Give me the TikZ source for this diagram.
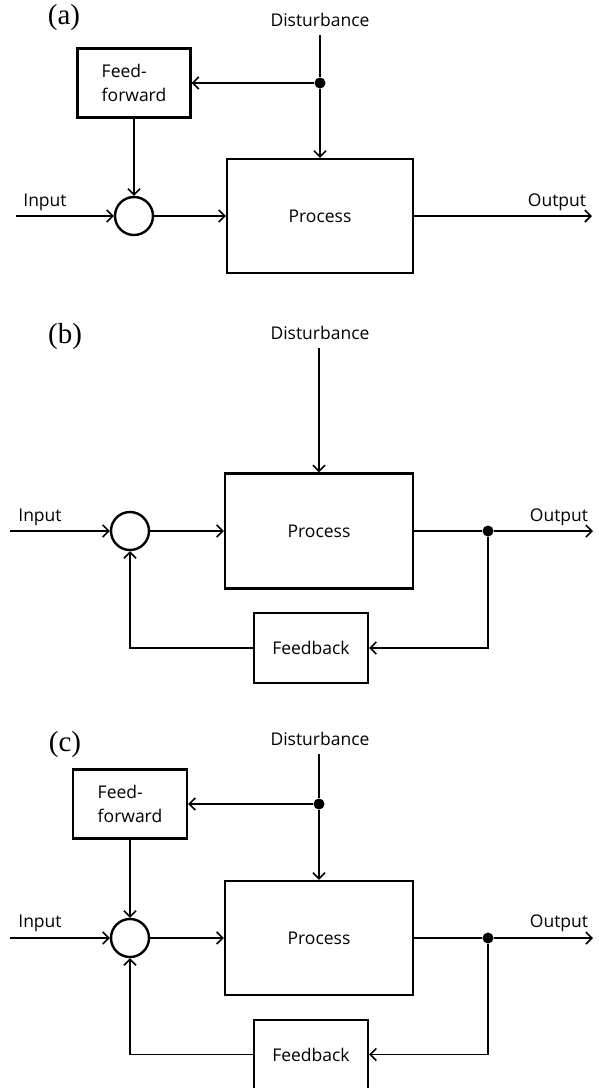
\documentclass[tikz,border=0pt]{standalone}
\usepackage{fontspec}
\setmainfont{Liberation Serif}
\setsansfont{Open Sans}
\usetikzlibrary{arrows.meta}
\tikzset{every node/.style={align=center}, >={Straight Barb[length=6pt,width=12pt]}, font=\sffamily\fontsize{17.5}{24}\selectfont}
\tikzset{block/.style={draw, line width=2.4pt, inner sep=0pt},
  sum/.style={draw, circle, line width=2.4pt, minimum size=38pt, inner sep=0pt},
  junction/.style={circle, fill, inner sep=0pt, minimum size=11pt},
  tag/.style={font=\rmfamily\fontsize{29}{29}\selectfont},
  wire/.style={line width=1.6pt}}

\begin{document}
\begin{tikzpicture}[x=1pt, y=-1pt]
\useasboundingbox (0,0) rectangle (598,1088);
% (a) feedforward
\node [tag] (taga) at (64,18) {(a)};
\node (dista) at (320,20) {Disturbance};
\coordinate (da) at (320,35);
\node [junction] (ja) at (320,83) {};
\node [block, minimum width=113pt, minimum height=69pt, align=left] (ffa) at (134,83) {Feed-\\forward};
\node [sum] (suma) at (134,216) {};
\node [block, minimum width=186pt, minimum height=114pt] (pa) at (320,216) {Process};
\coordinate (ina) at (16,216);
\coordinate (outa) at (592,216);
\node (lina) at (45,202) {Input};
\node (louta) at (557,202) {Output};
\path [->, wire] (da) edge [-] (ja)
    (ja) edge (ffa.east)
    (ja) edge (pa.north)
    (ffa.south) edge (suma.north)
    (ina) edge (suma.west)
    (suma.east) edge (pa.west)
    (pa.east) edge (outa);

% (b) feedback
\node [tag] (tagb) at (65,337) {(b)};
\node (distb) at (320,333) {Disturbance};
\coordinate (db) at (319,348);
\node [sum] (sumb) at (130,531) {};
\node [block, minimum width=188pt, minimum height=115pt] (pb) at (319,531) {Process};
\node [block, minimum width=114pt, minimum height=70pt] (fbb) at (311,648) {Feedback};
\node [junction] (jb) at (488,531) {};
\coordinate (inb) at (10,531);
\coordinate (outb) at (593,531);
\node (linb) at (40,517) {Input};
\node (loutb) at (559,517) {Output};
\path [->, wire] (db) edge (pb.north)
    (inb) edge (sumb.west)
    (sumb.east) edge (pb.west)
    (pb.east) edge [-] (jb)
    (jb) edge (outb);
\draw [->, wire] (jb) |- (fbb.east);
\draw [->, wire] (fbb.west) -| (sumb.south);

% (c) feedforward + feedback
\node [tag] (tagc) at (65,745) {(c)};
\node (distc) at (320,739) {Disturbance};
\coordinate (dc) at (319,754);
\node [junction] (jc) at (319,804) {};
\node [block, minimum width=114pt, minimum height=69pt, align=left] (ffc) at (130,804) {Feed-\\forward};
\node [sum] (sumc) at (130,938) {};
\node [block, minimum width=188pt, minimum height=114pt] (pc) at (319,938) {Process};
\node [block, minimum width=114pt, minimum height=69pt] (fbc) at (311,1054.5) {Feedback};
\node [junction] (jc2) at (488,938) {};
\coordinate (inc) at (10,938);
\coordinate (outc) at (593,938);
\node (linc) at (40,923) {Input};
\node (loutc) at (559,923) {Output};
\path [->, wire] (dc) edge [-] (jc)
    (jc) edge (ffc.east)
    (jc) edge (pc.north)
    (ffc.south) edge (sumc.north)
    (inc) edge (sumc.west)
    (sumc.east) edge (pc.west)
    (pc.east) edge [-] (jc2)
    (jc2) edge (outc);
\draw [->, wire] (jc2) |- (fbc.east);
\draw [->, wire] (fbc.west) -| (sumc.south);
\end{tikzpicture}
\end{document}
